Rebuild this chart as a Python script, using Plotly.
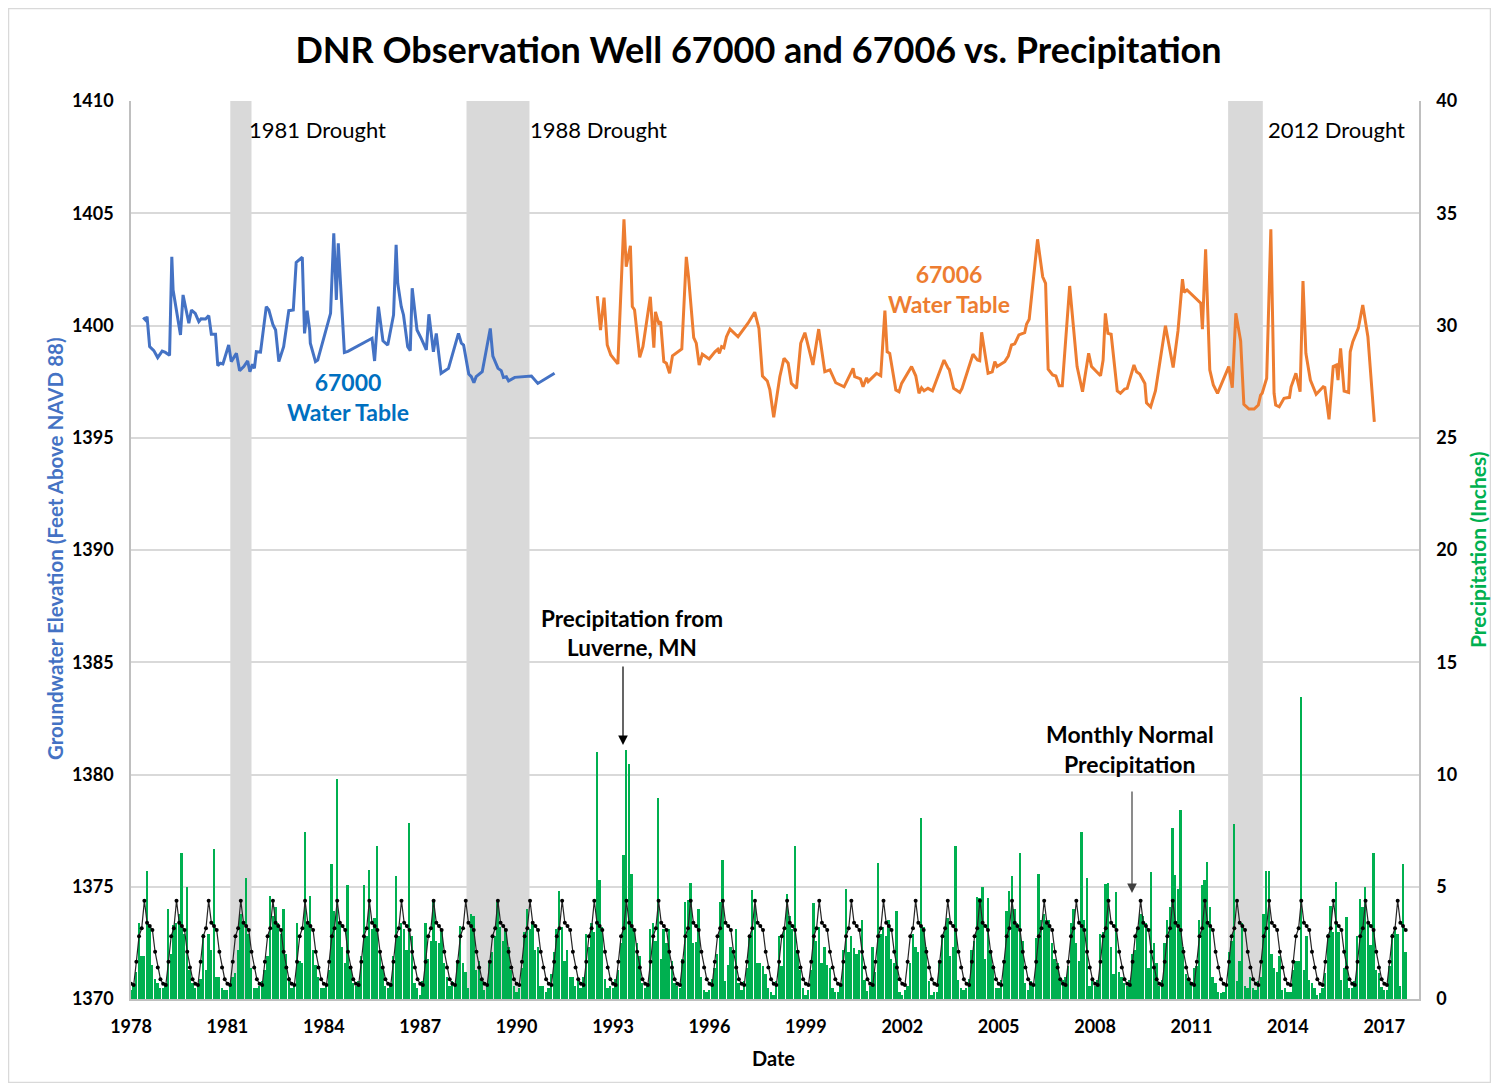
import plotly.graph_objects as go

# ---------------- data ----------------
well_67000_year = [1978.38, 1978.45, 1978.50, 1978.58, 1978.71, 1978.83, 1978.97, 1979.07, 1979.20, 1979.27,
                   1979.31, 1979.54, 1979.62, 1979.72, 1979.80, 1979.88, 1980.00, 1980.11, 1980.18, 1980.32,
                   1980.42, 1980.50, 1980.63, 1980.70, 1980.78, 1980.86, 1981.04, 1981.12, 1981.28, 1981.38,
                   1981.51, 1981.63, 1981.70, 1981.78, 1981.84, 1981.90, 1982.03, 1982.21, 1982.29, 1982.42,
                   1982.50, 1982.60, 1982.75, 1982.91, 1983.05, 1983.14, 1983.33, 1983.40, 1983.48, 1983.56,
                   1983.58, 1983.74, 1983.81, 1984.21, 1984.31, 1984.39, 1984.45, 1984.64, 1984.75, 1985.50,
                   1985.58, 1985.70, 1985.84, 1985.99, 1986.17, 1986.25, 1986.30, 1986.41, 1986.48, 1986.61,
                   1986.69, 1986.75, 1986.90, 1987.03, 1987.19, 1987.27, 1987.41, 1987.50, 1987.65, 1987.88,
                   1988.19, 1988.28, 1988.35, 1988.51, 1988.59, 1988.67, 1988.74, 1988.93, 1989.18, 1989.26,
                   1989.42, 1989.52, 1989.59, 1989.68, 1989.75, 1989.94, 1990.46, 1990.66, 1991.18]
well_67000_elev = [1400.36, 1400.25, 1400.39, 1399.06, 1398.88, 1398.57, 1398.86, 1398.80, 1398.67, 1403.06,
                   1401.58, 1399.58, 1401.36, 1400.69, 1400.10, 1400.69, 1400.54, 1400.17, 1400.30, 1400.29,
                   1400.44, 1399.61, 1399.61, 1398.21, 1398.32, 1398.29, 1399.13, 1398.39, 1398.76, 1397.99,
                   1398.17, 1398.42, 1397.94, 1398.27, 1398.09, 1398.83, 1398.81, 1400.84, 1400.69, 1400.02,
                   1399.80, 1398.39, 1399.06, 1400.66, 1400.69, 1402.81, 1403.04, 1399.65, 1400.66, 1399.80,
                   1399.21, 1398.39, 1398.46, 1400.54, 1404.11, 1401.14, 1403.66, 1398.80, 1398.85, 1399.43,
                   1398.42, 1400.84, 1399.32, 1399.13, 1400.47, 1403.59, 1401.88, 1400.84, 1400.47, 1399.06,
                   1398.88, 1401.66, 1399.80, 1399.43, 1398.91, 1400.50, 1398.83, 1399.65, 1397.87, 1398.09,
                   1399.65, 1399.21, 1399.13, 1397.84, 1397.72, 1397.45, 1397.72, 1397.94, 1399.87, 1398.64,
                   1398.09, 1397.99, 1397.69, 1397.72, 1397.53, 1397.69, 1397.75, 1397.42, 1397.87]

well_67006_year = [1992.51, 1992.61, 1992.72, 1992.82, 1992.93, 1993.15, 1993.34, 1993.41, 1993.54, 1993.60,
                   1993.67, 1993.83, 1993.93, 1994.16, 1994.27, 1994.32, 1994.42, 1994.48, 1994.58, 1994.66,
                   1994.76, 1994.85, 1995.14, 1995.28, 1995.35, 1995.51, 1995.59, 1995.68, 1995.78, 1995.99,
                   1996.17, 1996.26, 1996.31, 1996.38, 1996.45, 1996.53, 1996.64, 1996.89, 1997.20, 1997.41,
                   1997.54, 1997.65, 1997.80, 1997.88, 1998.00, 1998.19, 1998.32, 1998.45, 1998.55, 1998.71,
                   1998.84, 1998.97, 1999.22, 1999.40, 1999.59, 1999.75, 1999.93, 2000.19, 2000.47, 2000.52,
                   2000.70, 2000.78, 2000.89, 2000.94, 2001.20, 2001.33, 2001.46, 2001.53, 2001.61, 2001.80,
                   2001.90, 2001.98, 2002.29, 2002.42, 2002.52, 2002.60, 2002.68, 2002.80, 2002.94, 2003.30,
                   2003.43, 2003.46, 2003.60, 2003.79, 2003.86, 2004.20, 2004.34, 2004.41, 2004.47, 2004.67,
                   2004.80, 2004.88, 2004.95, 2005.19, 2005.30, 2005.40, 2005.50, 2005.63, 2005.81, 2005.87,
                   2005.95, 2006.21, 2006.37, 2006.46, 2006.54, 2006.68, 2006.78, 2006.88, 2006.98, 2007.21,
                   2007.44, 2007.61, 2007.80, 2007.89, 2008.17, 2008.25, 2008.32, 2008.40, 2008.50, 2008.69,
                   2008.79, 2008.92, 2009.00, 2009.21, 2009.29, 2009.39, 2009.55, 2009.60, 2009.73, 2009.88,
                   2010.19, 2010.43, 2010.58, 2010.72, 2010.77, 2010.86, 2011.29, 2011.34, 2011.44, 2011.57,
                   2011.68, 2011.81, 2012.16, 2012.27, 2012.38, 2012.53, 2012.63, 2012.79, 2012.95, 2013.08,
                   2013.15, 2013.20, 2013.34, 2013.47, 2013.57, 2013.62, 2013.73, 2013.88, 2014.05, 2014.10,
                   2014.25, 2014.30, 2014.38, 2014.47, 2014.56, 2014.70, 2014.88, 2015.10, 2015.15, 2015.28,
                   2015.41, 2015.51, 2015.56, 2015.64, 2015.75, 2015.89, 2015.94, 2016.02, 2016.19, 2016.33,
                   2016.49, 2016.69]
well_67006_elev = [1401.31, 1399.80, 1401.24, 1399.13, 1398.69, 1398.29, 1404.73, 1402.62, 1403.55, 1400.84,
                   1400.69, 1398.58, 1399.06, 1401.28, 1399.01, 1400.61, 1400.10, 1400.17, 1398.39, 1398.32,
                   1397.87, 1398.65, 1398.95, 1403.06, 1402.17, 1399.46, 1399.21, 1398.24, 1398.72, 1398.51,
                   1398.83, 1398.94, 1398.76, 1399.06, 1399.01, 1399.50, 1399.84, 1399.50, 1400.10, 1400.59,
                   1399.87, 1397.75, 1397.53, 1397.13, 1395.91, 1397.72, 1398.54, 1398.32, 1397.42, 1397.20,
                   1399.21, 1399.68, 1398.24, 1399.84, 1397.94, 1398.02, 1397.45, 1397.27, 1398.09, 1397.72,
                   1397.62, 1397.27, 1397.67, 1397.50, 1397.87, 1397.76, 1400.66, 1398.83, 1398.76, 1397.13,
                   1397.05, 1397.42, 1398.17, 1397.76, 1396.98, 1397.23, 1397.09, 1397.20, 1397.09, 1398.46,
                   1398.09, 1398.05, 1397.20, 1397.02, 1397.20, 1398.72, 1398.46, 1398.43, 1399.70, 1397.87,
                   1397.94, 1398.39, 1398.17, 1398.39, 1398.64, 1399.13, 1399.18, 1399.58, 1399.68, 1400.07,
                   1400.28, 1403.84, 1402.17, 1401.88, 1398.05, 1397.80, 1397.75, 1397.32, 1397.32, 1401.76,
                   1398.17, 1397.05, 1398.76, 1398.17, 1397.76, 1398.46, 1400.54, 1399.65, 1399.61, 1397.09,
                   1396.98, 1397.17, 1397.20, 1398.24, 1397.94, 1397.84, 1397.42, 1396.56, 1396.37, 1397.10,
                   1399.99, 1398.13, 1399.76, 1402.06, 1401.48, 1401.58, 1400.99, 1399.84, 1403.39, 1398.02,
                   1397.35, 1396.98, 1398.17, 1397.23, 1400.54, 1399.31, 1396.49, 1396.28, 1396.28, 1396.46,
                   1396.90, 1396.98, 1397.65, 1404.29, 1396.98, 1396.46, 1396.38, 1396.76, 1396.80, 1397.27,
                   1397.87, 1397.50, 1397.05, 1401.98, 1398.76, 1397.57, 1396.94, 1397.27, 1397.24, 1395.82,
                   1398.17, 1398.24, 1397.57, 1398.98, 1397.08, 1397.02, 1398.83, 1399.28, 1399.87, 1400.91,
                   1399.50, 1395.71]

precip_years = list(range(1978, 2018))
# monthly precipitation at Luverne, MN (inches), Jan..Dec, one row per year
precip_monthly = [
    [0.40, 0.60, 1.20, 3.40, 1.90, 1.90, 5.70, 3.20, 1.50, 0.90, 0.70, 0.50],  # 1978
    [0.50, 0.70, 4.00, 2.00, 3.30, 3.40, 3.80, 6.50, 2.90, 5.00, 1.30, 0.70],  # 1979
    [0.50, 0.60, 0.90, 2.90, 1.30, 2.90, 2.20, 6.70, 1.00, 1.00, 0.50, 0.40],  # 1980
    [0.40, 0.70, 1.00, 1.15, 2.20, 3.80, 3.40, 5.40, 2.90, 1.40, 0.50, 0.50],  # 1981
    [0.60, 0.80, 1.30, 1.90, 4.60, 3.70, 4.10, 3.40, 2.90, 4.00, 2.00, 1.00],  # 1982
    [0.50, 0.60, 3.40, 1.70, 1.60, 7.45, 3.40, 4.60, 2.20, 1.50, 1.00, 0.50],  # 1983
    [0.50, 0.70, 1.30, 6.00, 3.90, 9.80, 3.40, 2.30, 1.60, 5.10, 1.40, 0.70],  # 1984
    [0.60, 0.80, 1.90, 5.10, 2.80, 5.75, 3.10, 3.60, 6.80, 2.20, 1.40, 0.60],  # 1985
    [0.50, 0.70, 1.90, 5.50, 2.80, 3.40, 3.10, 2.20, 7.86, 2.80, 0.70, 0.50],  # 1986
    [0.20, 0.80, 3.40, 1.80, 2.60, 4.30, 2.60, 2.50, 3.10, 1.60, 1.00, 0.60],  # 1987
    [0.80, 0.60, 1.60, 3.25, 1.60, 1.20, 0.50, 3.80, 3.70, 1.30, 1.70, 0.90],  # 1988
    [0.40, 0.60, 1.70, 2.10, 2.80, 4.30, 3.20, 2.60, 3.10, 2.30, 1.30, 0.60],  # 1989
    [0.30, 0.50, 1.40, 3.00, 4.00, 3.10, 3.40, 2.20, 2.30, 0.60, 0.60, 0.30],  # 1990
    [0.50, 1.10, 2.10, 3.10, 4.80, 3.20, 1.70, 2.20, 1.00, 1.00, 0.60, 0.80],  # 1991
    [0.50, 1.00, 2.90, 2.30, 3.40, 3.00, 11.00, 5.30, 3.20, 0.90, 0.50, 0.60],  # 1992
    [0.50, 0.90, 1.30, 2.50, 6.40, 11.10, 10.45, 5.55, 3.10, 2.50, 1.90, 0.70],  # 1993
    [0.50, 0.70, 3.10, 3.40, 2.60, 8.94, 1.80, 3.10, 2.50, 3.10, 1.70, 0.70],  # 1994
    [0.60, 0.50, 1.80, 4.30, 4.40, 5.15, 2.50, 2.55, 4.00, 1.00, 0.40, 0.30],  # 1995
    [0.40, 0.90, 1.40, 2.00, 4.30, 6.20, 0.80, 1.50, 2.30, 2.10, 3.10, 0.70],  # 1996
    [0.40, 0.80, 1.40, 2.85, 4.85, 4.10, 1.60, 1.60, 1.45, 1.10, 0.50, 0.30],  # 1997
    [0.20, 0.80, 2.80, 1.45, 3.07, 4.66, 3.70, 3.10, 6.80, 2.20, 1.30, 0.50],  # 1998
    [0.20, 0.40, 1.30, 4.26, 2.60, 3.20, 1.60, 2.30, 1.50, 1.40, 0.50, 0.30],  # 1999
    [0.30, 0.60, 2.20, 4.88, 2.10, 2.80, 2.25, 2.00, 2.20, 3.50, 0.85, 0.35],  # 2000
    [0.60, 2.30, 1.20, 6.07, 2.90, 3.20, 2.80, 3.50, 1.80, 1.60, 3.90, 0.30],  # 2001
    [0.20, 0.40, 0.60, 1.60, 2.90, 2.30, 2.10, 8.05, 3.20, 2.30, 0.80, 0.20],  # 2002
    [0.30, 0.30, 1.70, 2.80, 3.20, 3.60, 1.90, 2.30, 6.80, 0.85, 0.50, 0.40],  # 2003
    [0.50, 0.90, 2.20, 2.60, 4.56, 4.50, 4.97, 1.80, 4.50, 2.10, 1.50, 0.50],  # 2004
    [0.50, 0.85, 1.70, 3.90, 4.80, 5.50, 4.00, 3.40, 6.49, 2.60, 0.70, 0.40],  # 2005
    [0.80, 0.60, 2.70, 5.57, 3.50, 3.80, 3.50, 3.50, 2.50, 1.80, 1.60, 0.80],  # 2006
    [0.85, 1.00, 1.45, 3.40, 4.00, 2.50, 1.70, 7.42, 3.50, 5.37, 0.60, 0.85],  # 2007
    [0.60, 0.85, 2.90, 3.00, 5.12, 5.15, 2.30, 1.10, 4.78, 1.20, 1.00, 0.70],  # 2008
    [0.60, 0.85, 2.00, 2.20, 3.10, 3.80, 3.70, 3.40, 1.40, 5.67, 2.50, 1.60],  # 2009
    [0.60, 0.85, 2.50, 3.50, 4.10, 7.60, 5.52, 4.90, 8.42, 2.30, 1.10, 0.85],  # 2010
    [0.70, 1.40, 1.45, 3.50, 5.07, 5.30, 6.12, 4.10, 1.00, 0.70, 0.30, 0.25],  # 2011
    [0.30, 0.60, 2.10, 2.60, 7.80, 0.80, 1.70, 3.40, 0.60, 0.50, 1.00, 0.50],  # 2012
    [0.40, 0.80, 1.00, 3.80, 5.72, 5.72, 2.00, 1.40, 1.20, 1.90, 0.40, 0.50],  # 2013
    [0.30, 0.30, 1.30, 1.70, 1.70, 13.47, 1.30, 2.80, 0.85, 0.70, 0.50, 0.20],  # 2014
    [0.25, 0.50, 1.15, 2.90, 4.14, 3.00, 5.23, 3.00, 0.85, 1.40, 3.64, 0.50],  # 2015
    [0.50, 0.80, 2.80, 4.45, 4.10, 5.00, 3.40, 2.40, 6.49, 1.30, 1.15, 0.55],  # 2016
    [0.40, 0.40, 1.45, 2.90, 3.20, 2.90, 0.60, 6.00, 2.08],                    # 2017
]
normal_monthly = [0.68, 0.62, 1.66, 2.80, 3.15, 4.38, 3.40, 3.25, 3.07, 2.10, 1.40, 0.88]

drought_labels = ["1981 Drought", "1988 Drought", "2012 Drought"]
drought_start = [1981.09, 1988.44, 2012.14]
drought_end = [1981.75, 1990.40, 2013.22]

x_tick_years = [1978, 1981, 1984, 1987, 1990, 1993, 1996, 1999, 2002, 2005, 2008, 2011, 2014, 2017]
left_ticks = [1370, 1375, 1380, 1385, 1390, 1395, 1400, 1405, 1410]
right_ticks = [0, 5, 10, 15, 20, 25, 30, 35, 40]

# ---------------- derived series ----------------
bar_x, bar_y, norm_y = [], [], []
for yr, row in zip(precip_years, precip_monthly):
    for m, v in enumerate(row):
        bar_x.append(yr + m / 12.0)
        bar_y.append(v)
        norm_y.append(normal_monthly[m])

# ---------------- layout helpers (page pixel coordinates) ----------------
OFF = 8                      # default body margin of the html page
W, H = 1499 - 2 * OFF, 1091 - 2 * OFF
PL, PR, PT, PB = 131, 1419, 101, 999   # plot area on the page
def px(xpix):
    return (xpix - PL) / (PR - PL)
def py(ypix):
    return (PB - ypix) / (PB - PT)

FONT = "Lato"
BLUE = "#4472C4"
ORANGE = "#ED7D31"
GREEN = "#00B050"
GRID = "#D9D9D9"

fig = go.Figure()

fig.add_trace(go.Bar(x=bar_x, y=bar_y, yaxis="y2", marker=dict(color=GREEN, line=dict(width=0)),
                     width=0.058, name="Precipitation", showlegend=False))
fig.add_trace(go.Scatter(x=bar_x, y=norm_y, yaxis="y2", mode="lines+markers",
                         line=dict(color="#262626", width=1.2), marker=dict(color="#000000", size=4),
                         name="Monthly Normal", showlegend=False))
fig.add_trace(go.Scatter(x=well_67000_year, y=well_67000_elev, mode="lines",
                         line=dict(color=BLUE, width=3), name="67000", showlegend=False))
fig.add_trace(go.Scatter(x=well_67006_year, y=well_67006_elev, mode="lines",
                         line=dict(color=ORANGE, width=3), name="67006", showlegend=False))

shapes = []
for s, e in zip(drought_start, drought_end):
    shapes.append(dict(type="rect", xref="x", yref="paper", x0=s, x1=e, y0=0, y1=1,
                       fillcolor=GRID, line=dict(width=0), layer="between"))
# chart border
shapes.append(dict(type="rect", xref="paper", yref="paper", x0=px(8.5), x1=px(1490.5), y0=py(1082.5), y1=py(8.5),
                   line=dict(color="#D9D9D9", width=1.5), fillcolor="rgba(0,0,0,0)", layer="below"))

def ann(text, xp, yp, size, color="#000000", bold=False, **kw):
    d = dict(text=text, x=px(xp), xref="paper", y=py(yp), yref="paper", xanchor="center", yanchor="middle",
             showarrow=False, font=dict(family=FONT, size=size, color=color, weight="bold" if bold else "normal"))
    d.update(kw)
    return d

annotations = []
drought_label_left = [247, 528, 1266]   # page pixel left edges of the label boxes
for lbl, xl in zip(drought_labels, drought_label_left):
    annotations.append(ann(lbl, xl, 129, 22, xanchor="left"))
annotations.append(ann("67000<br>Water Table", 348, 397, 23, "#0070C0", True))
annotations.append(ann("67006<br>Water Table", 949, 289, 23, ORANGE, True))
annotations.append(ann("Precipitation from<br>Luverne, MN", 632, 633, 22.5, "#000000", True))
annotations.append(ann("Monthly Normal<br>Precipitation", 1130, 749, 23, "#000000", True))
# arrows
annotations.append(dict(text="", x=px(623), xref="paper", y=py(745), yref="paper", ax=0, ay=-80,
                        showarrow=True, arrowhead=2, arrowsize=1.6, arrowwidth=1.2, arrowcolor="#000000"))
annotations.append(dict(text="", x=px(1132), xref="paper", y=py(893), yref="paper", ax=0, ay=-103,
                        showarrow=True, arrowhead=2, arrowsize=1.6, arrowwidth=1.2, arrowcolor="#404040"))
# axis titles
annotations.append(ann("Groundwater Elevation (Feet Above NAVD 88)", 55, 549, 20.5, BLUE, True, textangle=-90))
annotations.append(ann("Precipitation (Inches)", 1477, 550, 21, GREEN, True, textangle=-90))
annotations.append(ann("Date", 773, 1058, 20, "#000000", True))

tickfont = dict(family=FONT, size=18, color="#000000", weight="bold")
fig.update_layout(
    width=W, height=H,
    margin=dict(l=PL - OFF, r=W + OFF - PR, t=PT - OFF, b=H + OFF - PB, pad=0),
    paper_bgcolor="white", plot_bgcolor="white",
    title=dict(text="DNR Observation Well 67000 and 67006 vs. Precipitation", x=(758.5 - OFF) / W,
               xanchor="center", y=1 - (50 - OFF) / H, yanchor="middle", yref="container",
               font=dict(family=FONT, size=36, color="#000000", weight="bold")),
    bargap=0,
    xaxis=dict(range=[1978, 2018.08], tickmode="array", tickvals=x_tick_years,
               ticktext=[str(v) for v in x_tick_years], showgrid=False, zeroline=False,
               showline=True, linecolor="#BFBFBF", linewidth=1.5,
               ticks="outside", ticklen=11, tickcolor="rgba(0,0,0,0)", tickfont=tickfont),
    yaxis=dict(range=[1370, 1410], tickmode="array", tickvals=left_ticks, showgrid=True, gridcolor=GRID,
               gridwidth=1.5, zeroline=False, showline=True, linecolor="#BFBFBF", linewidth=1.5,
               ticks="outside", ticklen=12, tickcolor="rgba(0,0,0,0)", tickfont=tickfont),
    yaxis2=dict(range=[0, 40], tickmode="array", tickvals=right_ticks, overlaying="y", side="right",
                showgrid=False, zeroline=False, showline=True, linecolor="#BFBFBF", linewidth=1.5,
                ticks="outside", ticklen=12, tickcolor="rgba(0,0,0,0)", tickfont=tickfont),
    shapes=shapes, annotations=annotations, showlegend=False,
)

fig.write_html("out.html")
